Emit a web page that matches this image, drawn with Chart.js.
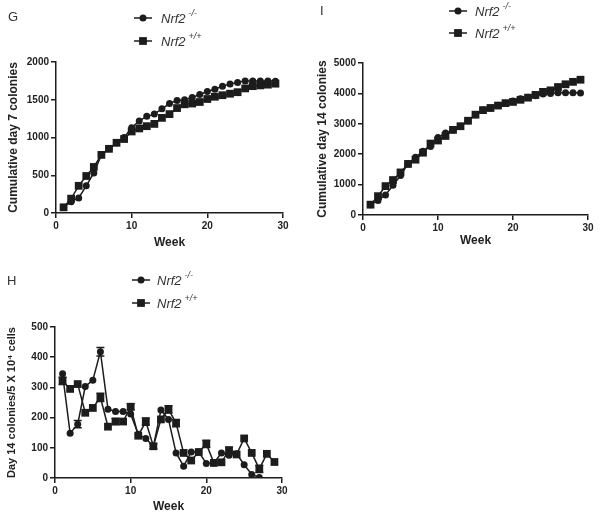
<!DOCTYPE html>
<html>
<head>
<meta charset="utf-8">
<script src="https://cdn.jsdelivr.net/npm/chart.js@4.4.1/dist/chart.umd.min.js"></script>
<style>
  body { margin: 0; background: #fff; }
  #wrap { position: relative; width: 601px; height: 516px; overflow: hidden; }
  canvas { position: absolute; }
  .lbl { position: absolute; font: 13px "Liberation Sans", Arial, sans-serif; color: #333; }
</style>
</head>
<body>
<div id="wrap">
  <canvas id="chartG" width="300" height="258" style="left:0;top:0"></canvas>
  <canvas id="chartI" width="301" height="258" style="left:300px;top:0"></canvas>
  <canvas id="chartH" width="300" height="258" style="left:0;top:258px"></canvas>
  <div class="lbl" style="left:8px;top:9px">G</div>
  <div class="lbl" style="left:320px;top:3px">I</div>
  <div class="lbl" style="left:7px;top:273px">H</div>
</div>
<script>
  // weeks 1..29
  const weeks = [1,2,3,4,5,6,7,8,9,10,11,12,13,14,15,16,17,18,19,20,21,22,23,24,25,26,27,28,29];

  // G: cumulative day 7 colonies
  const gKO = [75,150,200,360,530,770,850,930,1000,1130,1220,1280,1310,1380,1450,1490,1500,1530,1570,1610,1640,1680,1710,1730,1750,1750,1750,1750,1745];
  const gWT = [75,190,360,490,610,770,850,930,980,1080,1120,1150,1180,1260,1310,1390,1440,1450,1470,1510,1540,1560,1580,1600,1650,1680,1690,1700,1713];

  // I: cumulative day 14 colonies
  const iKO = [340,480,660,980,1300,1680,1900,2100,2250,2550,2700,2800,2920,3100,3300,3450,3520,3600,3680,3750,3820,3870,3920,3980,4000,4020,4020,4020,4010];
  const iWT = [340,620,950,1150,1400,1680,1820,2050,2350,2450,2600,2800,2920,3100,3300,3450,3520,3600,3680,3720,3790,3860,3950,4050,4100,4210,4300,4380,4450];

  // H: day 14 colonies / 5 x 10^4 cells
  const hKO = [345,148,178,303,324,418,228,220,220,212,145,131,105,225,194,83,39,86,86,48,50,83,75,80,44,12,2];
  const hWT = [322,295,311,216,232,267,170,187,187,236,140,187,105,194,227,182,83,58,86,113,50,52,92,78,131,83,30,80,53];
  const hErrKO = [0,0,12,0,0,14,0,0,0,0,0,0,0,0,0,0,0,0,0,0,0,0,0,0,0,0,0];
  const hErrWT = [12,0,0,0,0,14,0,10,0,10,0,12,8,0,12,12,0,0,0,12,0,0,10,0,0,0,12,0,0];

  const ink = '#1c1c1c';
  const fam = '"Liberation Sans", Arial, sans-serif';

  const pts = (vals) => vals.map((v, i) => ({ x: weeks[i], y: v }));

  const nrfLegend = {
    id: 'nrfLegend',
    afterDraw(chart, args, o) {
      const ctx = chart.ctx;
      const sups = ['-/-', '+/+'];
      chart.data.datasets.forEach((ds, i) => {
        const y = i === 0 ? o.y1 : o.y2;
        ctx.save();
        ctx.strokeStyle = ink;
        ctx.fillStyle = ink;
        ctx.lineWidth = 1.5;
        ctx.beginPath();
        ctx.moveTo(o.x - 9, y);
        ctx.lineTo(o.x + 9, y);
        ctx.stroke();
        Chart.helpers.drawPoint(ctx, { pointStyle: ds.pointStyle, radius: ds.pointRadius, borderWidth: 0, rotation: 0 }, o.x, y);
        ctx.fillStyle = '#333';
        ctx.textBaseline = 'middle';
        ctx.font = 'italic 13px ' + fam;
        ctx.fillText('Nrf2', o.tx, y + 1);
        const w = ctx.measureText('Nrf2').width;
        ctx.font = 'italic 9px ' + fam;
        ctx.fillText(sups[i], o.tx + w + 3, y - 5);
        ctx.restore();
      });
    }
  };

  const errorBars = {
    id: 'errorBars',
    afterDatasetsDraw(chart) {
      const ctx = chart.ctx;
      const ys = chart.scales.y;
      chart.data.datasets.forEach((ds, i) => {
        if (!ds.errors) return;
        const meta = chart.getDatasetMeta(i);
        ctx.save();
        ctx.strokeStyle = ink;
        ctx.lineWidth = 1.5;
        meta.data.forEach((pt, j) => {
          const e = ds.errors[j];
          if (!e) return;
          const v = ds.data[j].y;
          const t = ys.getPixelForValue(v + e), b = ys.getPixelForValue(v - e);
          ctx.beginPath();
          ctx.moveTo(pt.x, t); ctx.lineTo(pt.x, b);
          ctx.moveTo(pt.x - 4, t); ctx.lineTo(pt.x + 4, t);
          ctx.moveTo(pt.x - 4, b); ctx.lineTo(pt.x + 4, b);
          ctx.stroke();
        });
        ctx.restore();
      });
    }
  };

  function makeChart(id, cfg) {
    const ctx = document.getElementById(id).getContext('2d');
    return new Chart(ctx, {
      type: 'line',
      data: {
        datasets: [{
          label: 'Nrf2 -/-',
          data: pts(cfg.ko),
          errors: cfg.errKO,
          borderColor: ink,
          backgroundColor: ink,
          borderWidth: 1.5,
          pointStyle: 'circle',
          pointRadius: 3.5,
          pointBorderWidth: 0,
          tension: 0
        }, {
          label: 'Nrf2 +/+',
          data: pts(cfg.wt),
          errors: cfg.errWT,
          borderColor: ink,
          backgroundColor: ink,
          borderWidth: 1.5,
          pointStyle: 'rect',
          pointRadius: 5.5,
          pointBorderWidth: 0,
          tension: 0
        }]
      },
      options: {
        responsive: false,
        animation: false,
        layout: { padding: { top: cfg.top, right: cfg.right, left: 0, bottom: 0 } },
        plugins: {
          legend: { display: false },
          tooltip: { enabled: false },
          nrfLegend: cfg.legend
        },
        scales: {
          x: {
            type: 'linear',
            min: 0,
            max: 30,
            afterFit: (s) => { s.height = cfg.h - cfg.bottom; },
            ticks: { stepSize: 10, padding: 2, color: '#222', callback: (v) => String(v), font: { family: fam, size: 10, weight: 'bold', lineHeight: 1.2 } },
            grid: { drawOnChartArea: false, drawTicks: true, tickLength: 5, color: ink, lineWidth: 1.5 },
            border: { display: true, color: ink, width: 1.5 },
            title: { display: true, text: 'Week', color: '#222', padding: { top: 0, bottom: cfg.weekPad }, font: { family: fam, size: 12, weight: 'bold', lineHeight: 1.2 } }
          },
          y: {
            min: 0,
            max: cfg.ymax,
            afterFit: (s) => { s.width = cfg.left; },
            ticks: { stepSize: cfg.ystep, padding: 2, color: '#222', callback: (v) => String(v), font: { family: fam, size: 10, weight: 'bold' } },
            grid: { drawOnChartArea: false, drawTicks: true, tickLength: 5, color: ink, lineWidth: 1.5 },
            border: { display: true, color: ink, width: 1.5 },
            title: { display: true, text: cfg.ytitle, color: '#222', padding: { top: cfg.yTitlePad, bottom: 0 }, font: { family: fam, size: cfg.ytitleSize, weight: 'bold', lineHeight: 1.2 } }
          }
        }
      },
      plugins: [nrfLegend, errorBars]
    });
  }

  makeChart('chartG', {
    ko: gKO, wt: gWT, h: 258, top: 62, right: 17, bottom: 213, left: 56,
    ymax: 2000, ystep: 500, ytitle: 'Cumulative day 7 colonies', ytitleSize: 12,
    yTitlePad: 6.8, weekPad: 7.8,
    legend: { x: 143, y1: 18, y2: 41, tx: 161 }
  });

  makeChart('chartI', {
    ko: iKO, wt: iWT, h: 258, top: 63, right: 13, bottom: 215, left: 63,
    ymax: 5000, ystep: 1000, ytitle: 'Cumulative day 14 colonies', ytitleSize: 12,
    yTitlePad: 15.3, weekPad: 9.8,
    legend: { x: 158, y1: 11, y2: 33, tx: 175 }
  });

  makeChart('chartH', {
    ko: hKO, wt: hWT, errKO: hErrKO, errWT: hErrWT, h: 258, top: 69, right: 18, bottom: 220, left: 55,
    ymax: 500, ystep: 100, ytitle: 'Day 14 colonies/5 X 10\u2074 cells', ytitleSize: 11,
    yTitlePad: 5.4, weekPad: 2.1,
    legend: { x: 141, y1: 22, y2: 45, tx: 157 }
  });
</script>
</body>
</html>
